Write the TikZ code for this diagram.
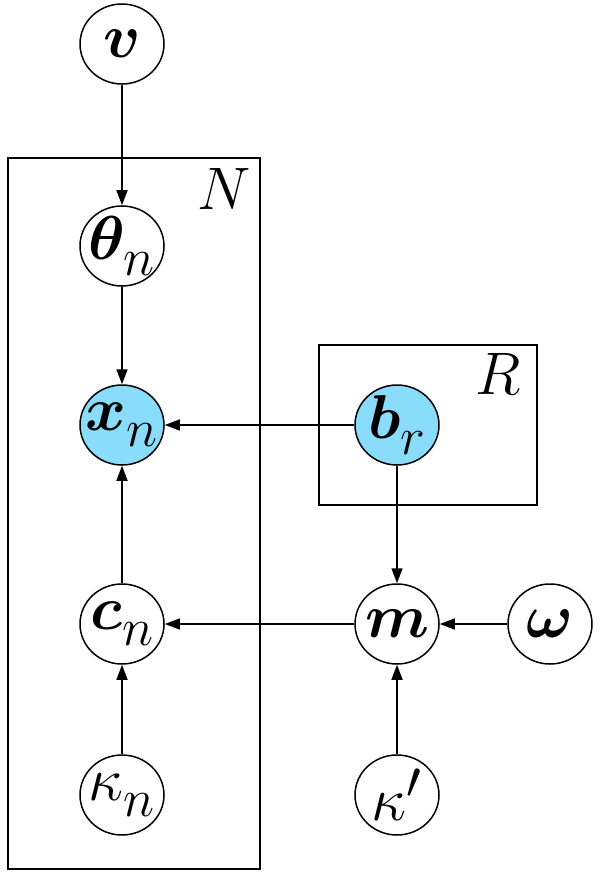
\RequirePackage{fix-cm}
\documentclass[tikz,border=0pt]{standalone}
\usepackage{bm}
\usetikzlibrary{shapes.geometric,arrows.meta}
\DeclareMathSizes{62}{62}{53}{42}
\DeclareMathSizes{60}{60}{50}{40}
\newcommand\lsub[1]{_{\lower7pt\hbox{$\scriptstyle#1$}}}
\definecolor{obs}{RGB}{137,221,250}
\tikzset{
  rv/.style={draw, ellipse, line width=1.5pt, minimum width=84pt, minimum height=80pt, inner sep=-16pt, font=\fontsize{62}{72}\selectfont},
  obsv/.style={rv, fill=obs},
  plate/.style={draw, line width=1.5pt},
  edge/.style={line width=1.5pt, -{Triangle[length=15pt,width=11pt]}},
  platelabel/.style={font=\fontsize{60}{72}\selectfont, inner sep=0pt}
}
\begin{document}
\begin{tikzpicture}[x=1pt,y=-1pt]
\useasboundingbox (0,0) rectangle (600,877);
\draw[plate] (8,158) rectangle (260,869);
\draw[plate] (319,345) rectangle (537,505);
\node[platelabel] (Nl) at (224,189) {$N$};
\node[platelabel] (Rl) at (498,374) {$R$};
\node[rv] (v) at (122,44) {$\bm{v}$};
\node[rv] (th) at (122,246) {$\bm{\theta}\lsub{n}$};
\node[obsv] (x) at (122,425) {$\bm{x}\lsub{n}$};
\node[rv] (c) at (122,624) {$\bm{c}\lsub{n}$};
\node[rv] (kn) at (122,795) {$\kappa\lsub{n}$};
\node[obsv] (b) at (397,425) {$\bm{b}\lsub{r}$};
\node[rv] (m) at (397,624) {$\bm{m}$};
\node[rv] (w) at (550,624) {$\bm{\omega}$};
\node[rv] (kp) at (397,795) {$\kappa'$};
\draw[edge] (v) -- (th);
\draw[edge] (th) -- (x);
\draw[edge] (c) -- (x);
\draw[edge] (b) -- (x);
\draw[edge] (b) -- (m);
\draw[edge] (m) -- (c);
\draw[edge] (w) -- (m);
\draw[edge] (kn) -- (c);
\draw[edge] (kp) -- (m);
\end{tikzpicture}
\end{document}
